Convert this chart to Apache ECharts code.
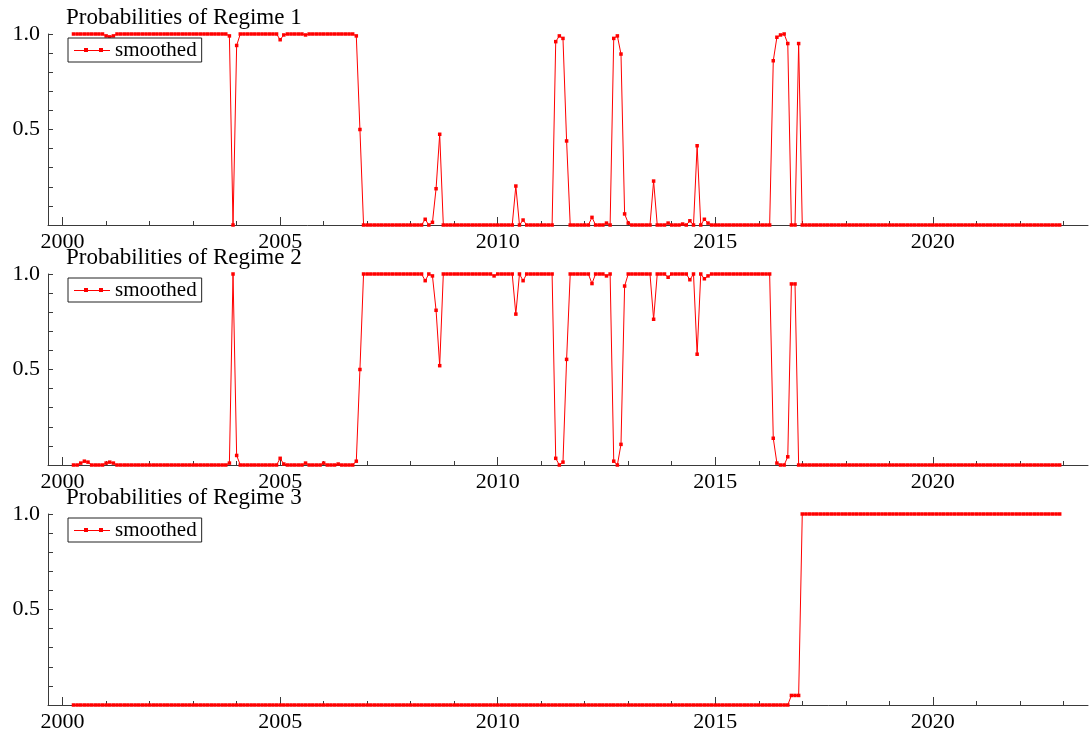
<!DOCTYPE html>
<html>
<head>
<meta charset="utf-8">
<script src="https://cdn.jsdelivr.net/npm/echarts@6/dist/echarts.min.js"></script>
<style>
html,body{margin:0;padding:0;background:#fff;}
#chart{width:1089px;height:734px;}
</style>
</head>
<body>
<div id="chart"></div>
<script>
// Monthly observations, April 2000 .. December 2022
const START_YEAR = 2000;
const START_MONTH = 4;
const TITLES = ['Probabilities of Regime 1', 'Probabilities of Regime 2', 'Probabilities of Regime 3'];
const LEGEND_NAME = 'smoothed';
const MAJOR_YEARS = [2000, 2005, 2010, 2015, 2020];
const MINOR_YEARS = [2000,2001,2002,2003,2004,2005,2006,2007,2008,2009,2010,2011,2012,2013,2014,2015,2016,2017,2018,2019,2020,2021,2022,2023];
const Y_LABELS = [0.5, 1.0];

const regime1 = [
  1,1,1,1,1,1,1,1,1,                               // 2000 Apr-Dec
  0.99,0.985,0.99,1,1,1,1,1,1,1,1,1,                // 2001
  1,1,1,1,1,1,1,1,1,1,1,1,                          // 2002
  1,1,1,1,1,1,1,1,1,1,0.99,0,                       // 2003
  0.94,1,1,1,1,1,1,1,1,1,1,1,                       // 2004
  0.97,0.995,1,1,1,1,1,0.995,1,1,1,1,               // 2005
  1,1,1,1,1,1,1,1,1,0.99,0.5,0,                     // 2006
  0,0,0,0,0,0,0,0,0,0,0,0,                          // 2007
  0,0,0,0,0.03,0,0.014,0.19,0.475,0,0,0,            // 2008
  0,0,0,0,0,0,0,0,0,0,0,0,                          // 2009
  0,0,0,0,0,0.204,0,0.026,0,0,0,0,                  // 2010
  0,0,0,0,0.96,0.99,0.977,0.44,0,0,0,0,             // 2011
  0,0,0.04,0,0,0,0.01,0,0.977,0.99,0.895,0.058,     // 2012
  0.01,0,0,0,0,0,0,0.23,0,0,0,0.01,                 // 2013
  0,0,0,0.005,0,0.022,0,0.415,0,0.03,0.01,0,        // 2014
  0,0,0,0,0,0,0,0,0,0,0,0,                          // 2015
  0,0,0,0,0.86,0.983,0.995,1,0.95,0,0,0.95,         // 2016
  0,0,0,0,0,0,0,0,0,0,0,0,                          // 2017
  0,0,0,0,0,0,0,0,0,0,0,0,                          // 2018
  0,0,0,0,0,0,0,0,0,0,0,0,                          // 2019
  0,0,0,0,0,0,0,0,0,0,0,0,                          // 2020
  0,0,0,0,0,0,0,0,0,0,0,0,                          // 2021
  0,0,0,0,0,0,0,0,0,0,0,0                           // 2022
];

const regime2 = [
  0,0,0.01,0.02,0.015,0,0,0,0,                      // 2000 Apr-Dec
  0.01,0.015,0.01,0,0,0,0,0,0,0,0,0,                // 2001
  0,0,0,0,0,0,0,0,0,0,0,0,                          // 2002
  0,0,0,0,0,0,0,0,0,0,0.01,1,                       // 2003
  0.05,0,0,0,0,0,0,0,0,0,0,0,                       // 2004
  0.035,0.005,0,0,0,0,0,0.01,0,0,0,0,               // 2005
  0.01,0,0,0,0.005,0,0,0,0,0.02,0.5,1,              // 2006
  1,1,1,1,1,1,1,1,1,1,1,1,                          // 2007
  1,1,1,1,0.965,1,0.99,0.81,0.52,1,1,1,             // 2008
  1,1,1,1,1,1,1,1,1,1,1,0.99,                       // 2009
  1,1,1,1,1,0.79,1,0.965,1,1,1,1,                   // 2010
  1,1,1,1,0.035,0,0.015,0.553,1,1,1,1,              // 2011
  1,1,0.95,1,1,1,0.99,1,0.02,0,0.108,0.937,         // 2012
  1,1,1,1,1,1,1,0.763,1,1,1,0.983,                  // 2013
  1,1,1,1,1,0.97,1,0.58,1,0.975,0.99,1,             // 2014
  1,1,1,1,1,1,1,1,1,1,1,1,                          // 2015
  1,1,1,1,0.14,0.01,0,0,0.043,0.948,0.948,0,        // 2016
  0,0,0,0,0,0,0,0,0,0,0,0,                          // 2017
  0,0,0,0,0,0,0,0,0,0,0,0,                          // 2018
  0,0,0,0,0,0,0,0,0,0,0,0,                          // 2019
  0,0,0,0,0,0,0,0,0,0,0,0,                          // 2020
  0,0,0,0,0,0,0,0,0,0,0,0,                          // 2021
  0,0,0,0,0,0,0,0,0,0,0,0                           // 2022
];

const regime3 = [
  0,0,0,0,0,0,0,0,0,                                // 2000 Apr-Dec
  0,0,0,0,0,0,0,0,0,0,0,0,                          // 2001
  0,0,0,0,0,0,0,0,0,0,0,0,                          // 2002
  0,0,0,0,0,0,0,0,0,0,0,0,                          // 2003
  0,0,0,0,0,0,0,0,0,0,0,0,                          // 2004
  0,0,0,0,0,0,0,0,0,0,0,0,                          // 2005
  0,0,0,0,0,0,0,0,0,0,0,0,                          // 2006
  0,0,0,0,0,0,0,0,0,0,0,0,                          // 2007
  0,0,0,0,0,0,0,0,0,0,0,0,                          // 2008
  0,0,0,0,0,0,0,0,0,0,0,0,                          // 2009
  0,0,0,0,0,0,0,0,0,0,0,0,                          // 2010
  0,0,0,0,0,0,0,0,0,0,0,0,                          // 2011
  0,0,0,0,0,0,0,0,0,0,0,0,                          // 2012
  0,0,0,0,0,0,0,0,0,0,0,0,                          // 2013
  0,0,0,0,0,0,0,0,0,0,0,0,                          // 2014
  0,0,0,0,0,0,0,0,0,0,0,0,                          // 2015
  0,0,0,0,0,0,0,0,0,0.05,0.05,0.05,                 // 2016
  1,1,1,1,1,1,1,1,1,1,1,1,                          // 2017
  1,1,1,1,1,1,1,1,1,1,1,1,                          // 2018
  1,1,1,1,1,1,1,1,1,1,1,1,                          // 2019
  1,1,1,1,1,1,1,1,1,1,1,1,                          // 2020
  1,1,1,1,1,1,1,1,1,1,1,1,                          // 2021
  1,1,1,1,1,1,1,1,1,1,1,1                           // 2022
];

const SERIES = [regime1, regime2, regime3];

// ---------- layout / style ----------
const FONT = '"Liberation Serif", "DejaVu Serif", serif';
const RED = '#ff0000';
const AX = '#3a3a3a';
const X_MIN = 1999.664, X_MAX = 2023.567;
const GRID_TOP = 34, GRID_H = 191, GRID_STEP = 240;

function toPairs(arr) {
  return arr.map((v, i) => [START_YEAR + (START_MONTH - 1 + i) / 12, v]);
}

const grids = [], xAxes = [], yAxes = [], series = [], titles = [], legends = [];
SERIES.forEach((arr, k) => {
  grids.push({left: 48, right: 1, top: GRID_TOP + GRID_STEP * k, height: GRID_H, containLabel: false});
  xAxes.push({
    type: 'value', gridIndex: k, min: X_MIN, max: X_MAX, position: 'bottom',
    axisLine: {show: true, onZero: false, lineStyle: {color: AX, width: 1}},
    axisTick: {show: true, inside: true, length: 8, customValues: MAJOR_YEARS, lineStyle: {color: AX}},
    axisLabel: {show: true, customValues: MAJOR_YEARS, margin: 6, color: '#000', fontFamily: FONT, fontSize: 22,
      formatter: v => String(Math.round(v))},
    splitLine: {show: false}
  });
  xAxes.push({
    type: 'value', gridIndex: k, min: X_MIN, max: X_MAX, position: 'bottom',
    axisLine: {show: false},
    axisTick: {show: true, inside: true, length: 4, customValues: MINOR_YEARS, lineStyle: {color: AX}},
    axisLabel: {show: false},
    splitLine: {show: false}
  });
  yAxes.push({
    type: 'value', gridIndex: k, min: 0, max: 1, interval: 0.1,
    axisLine: {show: true, lineStyle: {color: AX, width: 1}},
    axisTick: {show: true, inside: true, length: 5, lineStyle: {color: AX}},
    axisLabel: {show: true, margin: 8, color: '#000', fontFamily: FONT, fontSize: 22,
      formatter: v => {
        const hit = Y_LABELS.find(t => Math.abs(t - v) < 1e-6);
        return hit === undefined ? '' : hit.toFixed(1);
      }},
    splitLine: {show: false}
  });
  series.push({
    name: LEGEND_NAME, type: 'line', xAxisIndex: 2 * k, yAxisIndex: k,
    data: toPairs(arr),
    symbol: 'rect', symbolSize: 3.5, showAllSymbol: true,
    lineStyle: {color: RED, width: 1},
    itemStyle: {color: RED},
    emphasis: {disabled: true},
    clip: false
  });
  titles.push({
    text: TITLES[k], left: 66, top: 6 + GRID_STEP * k, padding: 0,
    textStyle: {fontFamily: FONT, fontSize: 23, fontWeight: 'normal', color: '#000'}
  });
  legends.push({
    data: [LEGEND_NAME], left: 68, top: 38 + GRID_STEP * k, orient: 'horizontal',
    selectedMode: false,
    borderColor: '#222', borderWidth: 1, borderRadius: 0, backgroundColor: '#fff',
    padding: [1, 5, 1, 6], itemGap: 0, itemTextGap: 6,
    itemWidth: 36, itemHeight: 5,
    icon: 'path://M0,2.5H36V3.5H0Z M10,0.5H14V4.5H10Z M25,0.5H29V4.5H25Z',
    itemStyle: {color: RED},
    textStyle: {fontFamily: FONT, fontSize: 21, color: '#000', lineHeight: 22}
  });
});

const chart = echarts.init(document.getElementById('chart'), null, {renderer: 'canvas'});
chart.setOption({
  animation: false,
  backgroundColor: '#fff',
  title: titles,
  legend: legends,
  grid: grids,
  xAxis: xAxes,
  yAxis: yAxes,
  series: series
});
</script>
</body>
</html>
